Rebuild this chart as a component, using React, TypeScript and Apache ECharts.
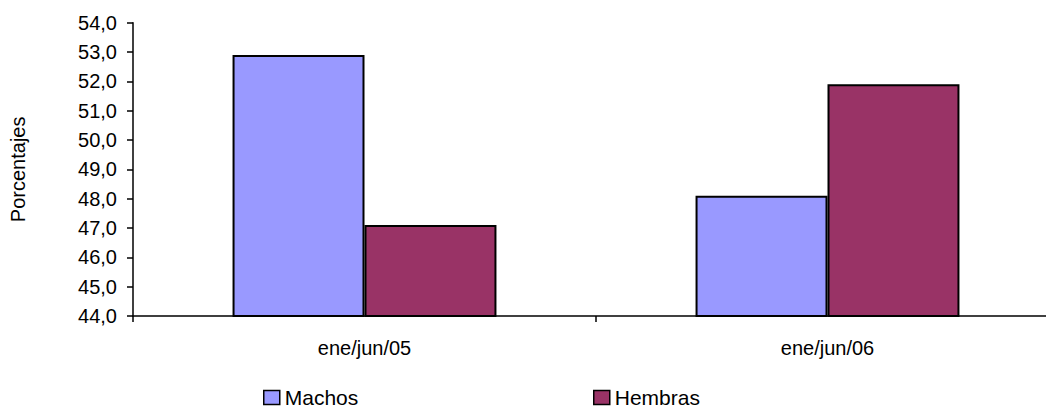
import React, { useEffect, useRef } from "react";
import * as echarts from "echarts";

const categories = ["ene/jun/05", "ene/jun/06"];
const machos = [52.9, 48.1];
const hembras = [47.1, 51.9];
const seriesNames = ["Machos", "Hembras"];
const yAxisName = "Porcentajes";

const FONT = "Liberation Sans, Arial, sans-serif";

export default function App() {
  const ref = useRef<HTMLDivElement>(null);
  useEffect(() => {
    if (!ref.current) return;
    const chart = echarts.init(ref.current, undefined, { renderer: "svg" });
    const legendBase = {
      top: 387,
      padding: 0,
      icon: "rect",
      itemWidth: 16,
      itemHeight: 14,
      itemGap: 8,
      textStyle: { fontSize: 21, fontFamily: FONT, color: "#000" },
      itemStyle: { borderColor: "#000", borderWidth: 1.5 },
    };
    chart.setOption({
      animation: false,
      backgroundColor: "#ffffff",
      textStyle: { fontFamily: FONT, color: "#000" },
      grid: { left: 133, top: 22.7, bottom: 95, right: 0, containLabel: false },
      legend: [
        { ...legendBase, data: [seriesNames[0]], left: 263 },
        { ...legendBase, data: [seriesNames[1]], left: 593 },
      ],
      xAxis: {
        type: "category",
        data: categories,
        boundaryGap: true,
        axisLine: { show: true, lineStyle: { color: "#000", width: 1.5 } },
        axisTick: { show: true, length: 6, lineStyle: { color: "#000", width: 1.5 } },
        axisLabel: { fontSize: 20, fontFamily: FONT, color: "#000", margin: 22 },
        splitLine: { show: false },
      },
      yAxis: {
        type: "value",
        min: 44,
        max: 54,
        interval: 1,
        name: yAxisName,
        nameLocation: "middle",
        nameRotate: 90,
        nameGap: 105,
        nameTextStyle: { fontSize: 20, fontFamily: FONT, color: "#000" },
        axisLine: { show: true, lineStyle: { color: "#000", width: 1.5 } },
        axisTick: { show: true, length: 6, inside: false, lineStyle: { color: "#000", width: 1.5 } },
        axisLabel: {
          fontSize: 20,
          fontFamily: FONT,
          color: "#000",
          margin: 16,
          formatter: (v: number) => v.toFixed(1).replace(".", ","),
        },
        splitLine: { show: false },
      },
      series: [
        {
          name: seriesNames[0],
          type: "bar",
          data: machos,
          barGap: "0%",
          barCategoryGap: "43%",
          itemStyle: { color: "#9999FF", borderColor: "#000", borderWidth: 2 },
        },
        {
          name: seriesNames[1],
          type: "bar",
          data: hembras,
          barGap: "0%",
          barCategoryGap: "43%",
          itemStyle: { color: "#993366", borderColor: "#000", borderWidth: 2 },
        },
      ],
    });
    return () => chart.dispose();
  }, []);
  return (
    <div
      style={{
        position: "absolute",
        left: 0,
        top: 0,
        width: 1046,
        height: 411,
        overflow: "hidden",
        background: "#fff",
      }}
    >
      <div ref={ref} style={{ width: 1059, height: 411 }} />
    </div>
  );
}
